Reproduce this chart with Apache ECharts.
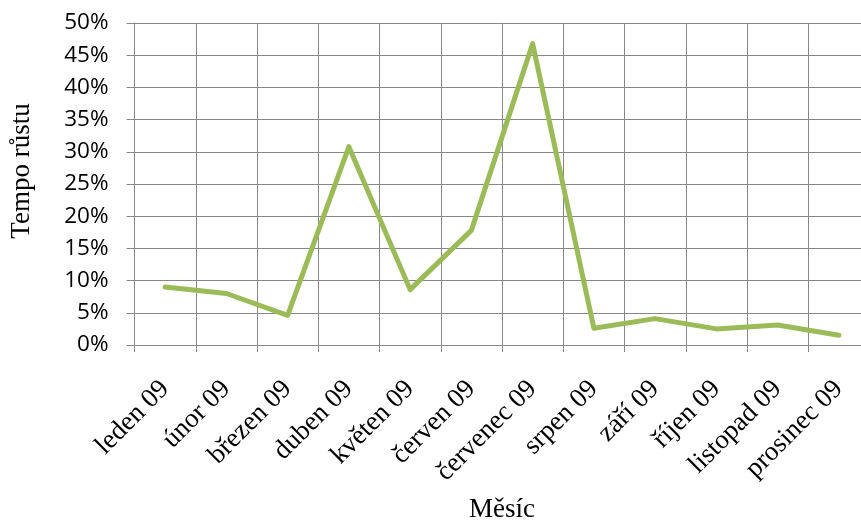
<!DOCTYPE html>
<html>
<head>
<meta charset="utf-8">
<script src="https://cdn.jsdelivr.net/npm/echarts@6/dist/echarts.min.js"></script>
<style>
  html, body { margin: 0; padding: 0; background: #fff; }
  #chart { width: 861px; height: 522px; }
</style>
</head>
<body>
<div id="chart"></div>
<script>
// měsíce (kategorie osy x)
const months = ['leden 09', 'únor 09', 'březen 09', 'duben 09', 'květen 09', 'červen 09',
  'červenec 09', 'srpen 09', 'září 09', 'říjen 09', 'listopad 09', 'prosinec 09']
// tempo růstu v procentech
const growth = [9.0, 8.0, 4.6, 30.8, 8.6, 17.8, 46.8, 2.6, 4.1, 2.5, 3.1, 1.5]
// osa y
const yMin = 0
const yMax = 50
const yStep = 5

const chart = echarts.init(document.getElementById('chart'))
const gridColor = '#878787'
const serif = 'Liberation Serif'

const option = {
  animation: false,
  backgroundColor: '#fff',
  // plocha grafu přesahuje pravý okraj obrázku
  grid: {
    left: 134.5,
    top: 23,
    width: 735,
    height: 322,
    containLabel: false,
    outerBoundsMode: 'none'
  },
  xAxis: {
    type: 'category',
    data: months,
    boundaryGap: true,
    name: 'Měsíc',
    nameLocation: 'middle',
    nameGap: 151,
    nameTextStyle: {
      fontFamily: serif,
      fontSize: 27,
      color: '#000'
    },
    axisLine: { lineStyle: { color: gridColor, width: 1 } },
    axisTick: { show: true, length: 7, lineStyle: { color: gridColor } },
    splitLine: { show: true, lineStyle: { color: gridColor, width: 1 } },
    axisLabel: {
      rotate: 45,
      margin: 40,
      interval: 0,
      fontFamily: serif,
      fontSize: 27,
      color: '#000'
    }
  },
  yAxis: {
    type: 'value',
    min: yMin,
    max: yMax,
    interval: yStep,
    name: 'Tempo růstu',
    nameLocation: 'middle',
    nameGap: 99,
    nameRotate: 90,
    nameTextStyle: {
      fontFamily: serif,
      fontSize: 27,
      color: '#000',
      padding: [0, 0, 0, 26]  // posun nahoru
    },
    axisLine: { show: true, lineStyle: { color: gridColor, width: 1 } },
    axisTick: { show: true, length: 8, lineStyle: { color: gridColor } },
    splitLine: { show: true, lineStyle: { color: gridColor, width: 1 } },
    axisLabel: {
      margin: 26,
      fontFamily: 'Open Sans',
      fontSize: 22.5,
      color: '#000',
      formatter: (v) => v + '%'
    }
  },
  series: [
    {
      type: 'line',
      data: growth,
      symbol: 'none',
      lineStyle: { color: '#9BBB59', width: 5, join: 'round', cap: 'round' }
    }
  ]
}
chart.setOption(option)
</script>
</body>
</html>
